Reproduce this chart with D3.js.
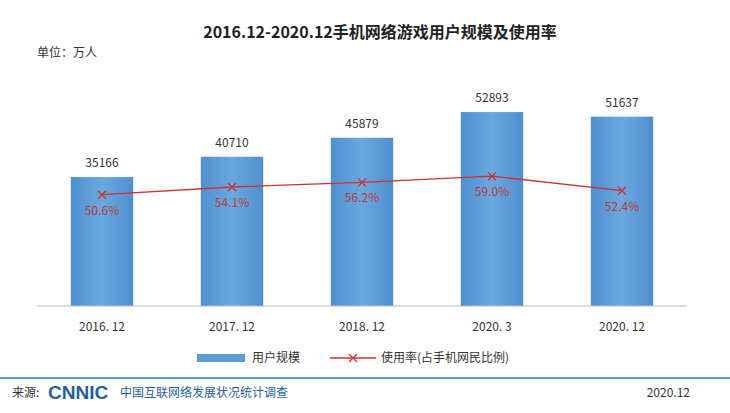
<!DOCTYPE html>
<html><head><meta charset="utf-8">
<script src="https://cdn.jsdelivr.net/npm/d3@7/dist/d3.min.js"></script>
<style>body{margin:0;background:#fff}svg{font-family:"Noto Sans CJK SC","Noto Sans",sans-serif}</style>
</head><body><svg id="c" width="730" height="413"></svg>
<script>
const categories=["2016. 12","2017. 12","2018. 12","2020. 3","2020. 12"];
const users=[35166,40710,45879,52893,51637];
const rates=[50.6,54.1,56.2,59.0,52.4];
const svg=d3.select("#c");
const defs=svg.append("defs");
const g=defs.append("linearGradient").attr("id","bg").attr("x1",0).attr("x2",1);
g.append("stop").attr("offset","0").attr("stop-color","#4f8fcf");
g.append("stop").attr("offset","0.5").attr("stop-color","#6aa8e0");
g.append("stop").attr("offset","1").attr("stop-color","#4f8fcf");
const x=d3.scaleBand().domain(categories).range([37,687]).paddingInner(0.52).paddingOuter(0.26);
const y=d3.scaleLinear().domain([0,60000]).range([306,86]);
const yr=d3.scaleLinear().domain([0,100]).range([306,86]);
svg.append("text").attr("x",380).attr("y",38).attr("text-anchor","middle").attr("font-size",16).attr("font-weight","bold").attr("fill","#222").text("2016.12-2020.12手机网络游戏用户规模及使用率");
svg.append("text").attr("x",37).attr("y",57).attr("font-size",12).attr("fill","#333").text("单位：万人");
svg.selectAll(".b").data(users).join("rect").attr("x",(d,i)=>x(categories[i])).attr("width",x.bandwidth()).attr("y",d=>y(d)).attr("height",d=>306-y(d)).attr("fill","url(#bg)");
svg.selectAll(".bl").data(users).join("text").attr("x",(d,i)=>x(categories[i])+x.bandwidth()/2).attr("y",d=>y(d)-10).attr("text-anchor","middle").attr("font-size",12).attr("fill","#333").text(d=>d);
svg.append("line").attr("x1",37).attr("x2",687).attr("y1",306).attr("y2",306).attr("stroke","#bbb");
svg.append("g").selectAll("text").data(categories).join("text").attr("x",d=>x(d)+x.bandwidth()/2).attr("y",331).attr("text-anchor","middle").attr("font-size",12).attr("fill","#333").text(d=>d);
const cx=i=>x(categories[i])+x.bandwidth()/2;
svg.append("path").attr("d",d3.line().x((d,i)=>cx(i)).y(d=>yr(d))(rates)).attr("fill","none").attr("stroke","#d0312d").attr("stroke-width",1.3);
rates.forEach((d,i)=>{const px=cx(i),py=yr(d);
svg.append("path").attr("d",`M${px-4},${py-4}L${px+4},${py+4}M${px-4},${py+4}L${px+4},${py-4}`).attr("stroke","#d0312d").attr("stroke-width",1.3);
svg.append("text").attr("x",px).attr("y",py+20).attr("text-anchor","middle").attr("font-size",12).attr("fill","#c0392b").text(d.toFixed(1)+"%");});
svg.append("rect").attr("x",197).attr("y",354).attr("width",48).attr("height",8).attr("fill","#5b9bd5");
svg.append("text").attr("x",252).attr("y",362).attr("font-size",12).attr("fill","#333").text("用户规模");
svg.append("line").attr("x1",330).attr("x2",376).attr("y1",358).attr("y2",358).attr("stroke","#d0312d").attr("stroke-width",1.3);
svg.append("path").attr("d","M349,354L357,362M349,362L357,354").attr("stroke","#d0312d").attr("stroke-width",1.3);
svg.append("text").attr("x",381).attr("y",362).attr("font-size",12).attr("fill","#333").text("使用率(占手机网民比例)");
svg.append("line").attr("x1",0).attr("x2",730).attr("y1",378).attr("y2",378).attr("stroke","#2e75b6").attr("stroke-width",1.5);
svg.append("text").attr("x",12).attr("y",397).attr("font-size",12).attr("fill","#333").text("来源:");
svg.append("text").attr("x",48).attr("y",399).attr("font-size",19).attr("font-weight","bold").attr("fill","#1f5ea8").attr("font-family","Arial,sans-serif").text("CNNIC");
svg.append("text").attr("x",120).attr("y",397).attr("font-size",12).attr("fill","#1f5ea8").text("中国互联网络发展状况统计调查");
svg.append("text").attr("x",690).attr("y",397).attr("text-anchor","end").attr("font-size",12).attr("fill","#333").text("2020.12");
</script></body></html>
